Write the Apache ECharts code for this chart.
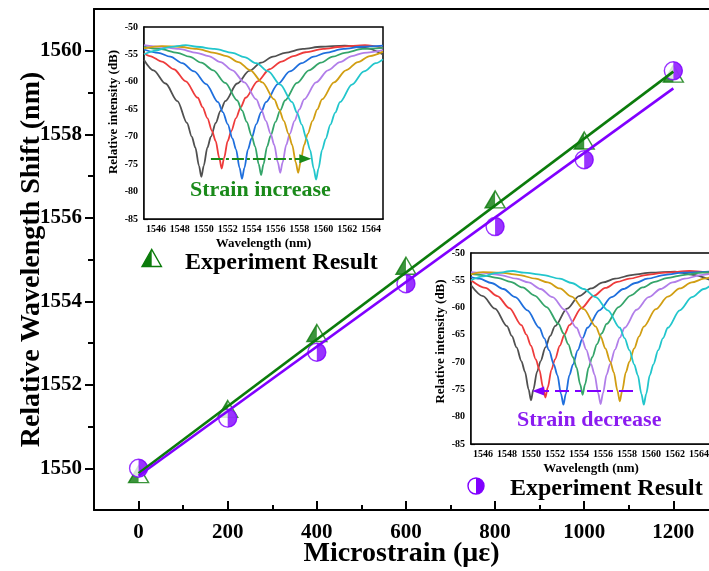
<!DOCTYPE html>
<html>
<head>
<meta charset="utf-8">
<script src="https://cdn.jsdelivr.net/npm/echarts@6/dist/echarts.min.js"></script>
<style>
html,body{margin:0;padding:0;background:#fff;}
#chart{width:709px;height:571px;}
</style>
</head>
<body>
<div id="chart"></div>
<script>
var strain = [0, 200, 400, 600, 800, 1000, 1200];
var incShift = [1549.86, 1551.42, 1553.24, 1554.85, 1556.44, 1557.85, 1559.45];
var decShift = [1550.00, 1551.20, 1552.78, 1554.42, 1555.79, 1557.39, 1559.52];
var fitStrain = [0, 1200];
var incFit = [1549.88, 1559.50];
var decFit = [1549.82, 1559.10];

var xTicks = [0, 200, 400, 600, 800, 1000, 1200];
var xMinor = [100, 300, 500, 700, 900, 1100];
var yTicks = [1550, 1552, 1554, 1556, 1558, 1560];
var yMinor = [1551, 1553, 1555, 1557, 1559];
var wlTicks = [1546, 1548, 1550, 1552, 1554, 1556, 1558, 1560, 1562, 1564];
var wlMinor = [1547, 1549, 1551, 1553, 1555, 1557, 1559, 1561, 1563];

var specColors = ['#505050', '#ee3b3b', '#1f6fdd', '#35a56a', '#b17ee9', '#d19e12', '#22c6cc'];

// spectra for strain increase (inset top left)
var incSpectra = [
	[[1545,-56],[1545.8,-57.9],[1546.8,-60.3],[1547.8,-63.5],[1548.6,-67.5],[1549,-70],[1549.3,-72],[1549.6,-75.3],[1549.8,-77.3],[1550,-75.3],[1550.3,-72],[1550.6,-70],[1551,-67.5],[1551.4,-65.3],[1551.8,-63.5],[1552.8,-60.3],[1553.8,-58],[1554.8,-56.5],[1555.8,-55.4],[1556.8,-54.7],[1558.3,-54],[1559.8,-53.6],[1561.8,-53.4],[1563.5,-53.8],[1565,-55]],
	[[1545,-54.8],[1545.5,-55.3],[1546.5,-56.3],[1547.5,-57.7],[1548.5,-59.9],[1549.5,-62.9],[1549.9,-64.6],[1550.3,-66.6],[1550.7,-69],[1551,-70.8],[1551.3,-73.9],[1551.5,-75.8],[1551.7,-73.9],[1552,-70.8],[1552.3,-69],[1552.7,-66.6],[1553.1,-64.6],[1553.5,-62.9],[1554.5,-59.9],[1555.5,-57.7],[1556.5,-56.3],[1557.5,-55.3],[1558.5,-54.6],[1560,-54],[1561.5,-53.6],[1563.5,-53.3],[1565,-53.8]],
	[[1545,-54.1],[1546.2,-54.7],[1547.2,-55.4],[1548.2,-56.6],[1549.2,-58.1],[1550.2,-60.4],[1551.2,-63.7],[1551.6,-65.5],[1552,-67.7],[1552.4,-70.3],[1552.7,-72.3],[1553,-75.7],[1553.2,-77.7],[1553.4,-75.7],[1553.7,-72.3],[1554,-70.3],[1554.4,-67.7],[1554.8,-65.5],[1555.2,-63.7],[1556.2,-60.4],[1557.2,-58.1],[1558.2,-56.6],[1559.2,-55.4],[1560.2,-54.7],[1561.7,-54],[1563.2,-53.6],[1565,-53.4]],
	[[1545,-53.6],[1546.3,-54],[1547.8,-54.7],[1548.8,-55.4],[1549.8,-56.5],[1550.8,-57.9],[1551.8,-60.2],[1552.8,-63.4],[1553.2,-65.2],[1553.6,-67.3],[1554,-69.8],[1554.3,-71.8],[1554.6,-75],[1554.8,-77],[1555,-75],[1555.3,-71.8],[1555.6,-69.8],[1556,-67.3],[1556.4,-65.2],[1556.8,-63.4],[1557.8,-60.2],[1558.8,-57.9],[1559.8,-56.5],[1560.8,-55.4],[1561.8,-54.7],[1563.3,-54],[1565,-53.8]],
	[[1545,-53.3],[1546.4,-53.6],[1547.9,-54],[1549.4,-54.7],[1550.4,-55.3],[1551.4,-56.4],[1552.4,-57.9],[1553.4,-60.1],[1554.4,-63.2],[1554.8,-65],[1555.2,-67.1],[1555.6,-69.5],[1555.9,-71.5],[1556.2,-74.7],[1556.4,-76.6],[1556.6,-74.7],[1556.9,-71.5],[1557.2,-69.5],[1557.6,-67.1],[1558,-65],[1558.4,-63.2],[1559.4,-60.1],[1560.4,-57.9],[1561.4,-56.4],[1562.4,-55.3],[1563.4,-54.7],[1565,-54.2]],
	[[1545,-53.9],[1546.5,-53.5],[1547.9,-53.6],[1549.4,-54],[1550.9,-54.7],[1551.9,-55.3],[1552.9,-56.4],[1553.9,-57.9],[1554.9,-60.1],[1555.9,-63.2],[1556.3,-65],[1556.7,-67.1],[1557.1,-69.5],[1557.4,-71.5],[1557.7,-74.7],[1557.9,-76.6],[1558.1,-74.7],[1558.4,-71.5],[1558.7,-69.5],[1559.1,-67.1],[1559.5,-65],[1559.9,-63.2],[1560.9,-60.1],[1561.9,-57.9],[1562.9,-56.4],[1563.9,-55.3],[1565,-54.5]],
	[[1545,-55],[1546,-54.3],[1547,-53.7],[1548.5,-53.3],[1549.4,-53.6],[1550.9,-54],[1552.4,-54.7],[1553.4,-55.5],[1554.4,-56.6],[1555.4,-58.1],[1556.4,-60.5],[1557.4,-63.7],[1557.8,-65.6],[1558.2,-67.8],[1558.6,-70.4],[1558.9,-72.4],[1559.2,-75.8],[1559.4,-77.8],[1559.6,-75.8],[1559.9,-72.4],[1560.2,-70.4],[1560.6,-67.8],[1561,-65.6],[1561.4,-63.7],[1562.4,-60.5],[1563.4,-58.1],[1564.4,-56.6],[1565,-55.9]]
];

// spectra for strain decrease (inset bottom right)
var decSpectra = [
	[[1545,-55.9],[1546,-57.9],[1547,-60.2],[1548,-63.4],[1548.4,-65.2],[1548.8,-67.3],[1549.2,-69.8],[1549.5,-71.8],[1549.8,-75],[1550,-77],[1550.2,-75],[1550.5,-71.8],[1550.8,-69.8],[1551.2,-67.3],[1551.6,-65.2],[1552,-63.4],[1553,-60.2],[1554,-57.9],[1555,-56.5],[1556,-55.4],[1557,-54.7],[1558.5,-54],[1560,-53.6],[1562,-53.4],[1563.5,-54],[1565,-55]],
	[[1545,-55],[1546.2,-56.4],[1547.2,-57.9],[1548.2,-60.1],[1549.2,-63.2],[1549.6,-64.9],[1550,-67],[1550.4,-69.5],[1550.7,-71.4],[1551,-74.6],[1551.2,-76.5],[1551.4,-74.6],[1551.7,-71.4],[1552,-69.5],[1552.4,-67],[1552.8,-64.9],[1553.2,-63.2],[1554.2,-60.1],[1555.2,-57.9],[1556.2,-56.4],[1557.2,-55.3],[1558.2,-54.7],[1559.7,-54],[1561.2,-53.6],[1563.2,-53.3],[1565,-53.7]],
	[[1545,-54.4],[1545.7,-54.7],[1546.7,-55.5],[1547.7,-56.6],[1548.7,-58.1],[1549.7,-60.5],[1550.7,-63.7],[1551.1,-65.6],[1551.5,-67.8],[1551.9,-70.4],[1552.2,-72.4],[1552.5,-75.8],[1552.7,-77.8],[1552.9,-75.8],[1553.2,-72.4],[1553.5,-70.4],[1553.9,-67.8],[1554.3,-65.6],[1554.7,-63.7],[1555.7,-60.5],[1556.7,-58.1],[1557.7,-56.6],[1558.7,-55.5],[1559.7,-54.7],[1561.2,-54],[1562.7,-53.6],[1565,-53.4]],
	[[1545,-53.8],[1545.8,-54],[1547.3,-54.6],[1548.3,-55.3],[1549.3,-56.3],[1550.3,-57.8],[1551.3,-59.9],[1552.3,-63],[1552.7,-64.7],[1553.1,-66.7],[1553.5,-69.1],[1553.8,-71],[1554.1,-74.1],[1554.3,-76],[1554.5,-74.1],[1554.8,-71],[1555.1,-69.1],[1555.5,-66.7],[1555.9,-64.7],[1556.3,-63],[1557.3,-59.9],[1558.3,-57.8],[1559.3,-56.3],[1560.3,-55.3],[1561.3,-54.6],[1562.8,-54],[1564.3,-53.6],[1565,-53.5]],
	[[1545,-53.5],[1545.8,-53.6],[1547.3,-54],[1548.8,-54.7],[1549.8,-55.4],[1550.8,-56.6],[1551.8,-58.1],[1552.8,-60.4],[1553.8,-63.7],[1554.2,-65.5],[1554.6,-67.7],[1555,-70.3],[1555.3,-72.3],[1555.6,-75.7],[1555.8,-77.7],[1556,-75.7],[1556.3,-72.3],[1556.6,-70.3],[1557,-67.7],[1557.4,-65.5],[1557.8,-63.7],[1558.8,-60.4],[1559.8,-58.1],[1560.8,-56.6],[1561.8,-55.4],[1562.8,-54.7],[1564.3,-54],[1565,-53.8]],
	[[1545,-53.9],[1546,-53.5],[1547.4,-53.6],[1548.9,-54],[1550.4,-54.7],[1551.4,-55.4],[1552.4,-56.5],[1553.4,-58],[1554.4,-60.3],[1555.4,-63.5],[1555.8,-65.3],[1556.2,-67.5],[1556.6,-69.9],[1556.9,-71.9],[1557.2,-75.2],[1557.4,-77.2],[1557.6,-75.2],[1557.9,-71.9],[1558.2,-69.9],[1558.6,-67.5],[1559,-65.3],[1559.4,-63.5],[1560.4,-60.3],[1561.4,-58],[1562.4,-56.5],[1563.4,-55.4],[1564.4,-54.7],[1565,-54.4]],
	[[1545,-55],[1546,-54.3],[1547,-53.7],[1548.5,-53.3],[1549.4,-53.6],[1550.9,-54],[1552.4,-54.7],[1553.4,-55.5],[1554.4,-56.6],[1555.4,-58.1],[1556.4,-60.5],[1557.4,-63.7],[1557.8,-65.6],[1558.2,-67.8],[1558.6,-70.4],[1558.9,-72.4],[1559.2,-75.8],[1559.4,-77.8],[1559.6,-75.8],[1559.9,-72.4],[1560.2,-70.4],[1560.6,-67.8],[1561,-65.6],[1561.4,-63.7],[1562.4,-60.5],[1563.4,-58.1],[1564.4,-56.6],[1565,-55.9]]
];

var incArrow = [[1550.6, -74.0], [1558.5, -74.0]];
var decArrow = [[1558.5, -75.3], [1550.6, -75.3]];

var font = "'Liberation Serif', 'Times New Roman', serif";
var green = '#0b7b0b';
var purple = '#8000ff';

var chart = echarts.init(document.getElementById('chart'), null, {renderer: 'canvas'});

function pairs(xs, ys){
	var out = [];
	for(var i = 0; i < xs.length; i++){
		out.push([xs[i], ys[i]]);
	}
	return out;
}

function plain(v){
	return String(v);
}

function insetX(grid, ticks, isMinor){
	return {
		type: 'value', gridIndex: grid, min: 1545, max: 1565, position: 'bottom',
		axisLine: {show: !isMinor, onZero: false, lineStyle: {color: '#000', width: 1.5}},
		axisTick: {inside: true, length: isMinor ? 2 : 4, customValues: ticks, lineStyle: {color: '#000', width: 1.2}},
		axisLabel: isMinor ? {show: false} : {customValues: ticks, formatter: plain, margin: 5, color: '#000', fontFamily: font, fontWeight: 'bold', fontSize: 10},
		splitLine: {show: false},
		name: isMinor ? '' : 'Wavelength (nm)',
		nameLocation: 'middle', nameGap: 18, nameMoveOverlap: false,
		nameTextStyle: {color: '#000', fontFamily: font, fontWeight: 'bold', fontSize: 13}
	};
}

function insetY(grid, shift){
	return {
		type: 'value', gridIndex: grid, min: -85, max: -50, interval: 5,
		axisLine: {onZero: false, lineStyle: {color: '#000', width: 1.5}},
		axisTick: {inside: true, length: 4, lineStyle: {color: '#000', width: 1.2}},
		minorTick: {show: true, splitNumber: 2, length: 2, lineStyle: {color: '#000', width: 1}},
		axisLabel: {formatter: plain, margin: 6, color: '#000', fontFamily: font, fontWeight: 'bold', fontSize: 10},
		splitLine: {show: false},
		name: 'Relative intensity (dB)',
		nameLocation: 'middle', nameGap: 24, nameRotate: 90, nameMoveOverlap: false,
		nameTextStyle: {color: '#000', fontFamily: font, fontWeight: 'bold', fontSize: 13, padding: [0, 0, 0, shift]}
	};
}

function spectra(list, xi, yi, arrow, arrowColor, dash){
	var out = [];
	for(var i = 0; i < list.length; i++){
		var s = {
			type: 'line', xAxisIndex: xi, yAxisIndex: yi, data: list[i],
			showSymbol: false, smooth: 0.3, smoothMonotone: 'x', silent: true,
			lineStyle: {color: specColors[i], width: 1.8}, z: 3
		};
		if(i === 0){
			s.markLine = {
				silent: true, symbol: ['none', 'triangle'], symbolSize: [9, 12],
				label: {show: false},
				lineStyle: {color: arrowColor, width: 2, type: dash},
				itemStyle: {color: arrowColor},
				data: [[{coord: arrow[0]}, {coord: arrow[1]}]]
			};
		}
		out.push(s);
	}
	return out;
}

var labelStyle = {color: '#000', fontFamily: font, fontWeight: 'bold', fontSize: 21, formatter: plain};

var series = [
	{
		type: 'scatter', xAxisIndex: 0, yAxisIndex: 0, data: pairs(strain, incShift),
		symbol: 'triangle', symbolSize: [20, 17], z: 4,
		itemStyle: {color: '#fff', borderColor: green, borderWidth: 1.4}
	},
	{
		type: 'scatter', xAxisIndex: 0, yAxisIndex: 0, data: pairs(strain, incShift),
		symbol: 'path://M0 1 L1 0 L1 1 Z', symbolSize: [10, 17], symbolOffset: [-5, 0], z: 4,
		itemStyle: {color: green}
	},
	{
		type: 'scatter', xAxisIndex: 0, yAxisIndex: 0, data: pairs(strain, decShift),
		symbol: 'circle', symbolSize: 18, z: 5,
		itemStyle: {color: '#fff', borderColor: purple, borderWidth: 1.4}
	},
	{
		type: 'scatter', xAxisIndex: 0, yAxisIndex: 0, data: pairs(strain, decShift),
		symbol: 'path://M0 0 C1.3333 0 1.3333 2 0 2 Z', symbolSize: [9, 18], symbolOffset: [4.5, 0], z: 5,
		itemStyle: {color: purple}
	},
	{
		type: 'line', xAxisIndex: 0, yAxisIndex: 0, data: pairs(fitStrain, incFit),
		showSymbol: false, lineStyle: {color: green, width: 2.6}, z: 6
	},
	{
		type: 'line', xAxisIndex: 0, yAxisIndex: 0, data: pairs(fitStrain, decFit),
		showSymbol: false, lineStyle: {color: purple, width: 2.6}, z: 6
	}
];
series = series.concat(spectra(incSpectra, 3, 2, incArrow, '#1a8a1a', [12, 3, 3, 3]));
series = series.concat(spectra(decSpectra, 5, 3, decArrow, purple, [14, 6, 6, 6]));

var option = {
	backgroundColor: '#fff',
	animation: false,
	grid: [
		{left: 94, top: 9, right: 0, bottom: 61, outerBoundsMode: 'none'},
		{left: 144, top: 27, width: 239, height: 192, outerBoundsMode: 'none', show: true, backgroundColor: '#fff', borderColor: '#000', borderWidth: 1.5, z: 1},
		{left: 471, top: 253, width: 240, height: 191, outerBoundsMode: 'none', show: true, backgroundColor: '#fff', borderColor: '#000', borderWidth: 1.5, z: 1}
	],
	xAxis: [
		{
			type: 'value', gridIndex: 0, min: -100, max: 1280, position: 'bottom',
			axisLine: {onZero: false, lineStyle: {color: '#000', width: 2}},
			axisTick: {inside: true, length: 9, customValues: xTicks, lineStyle: {color: '#000', width: 2}},
			axisLabel: Object.assign({customValues: xTicks, margin: 12}, labelStyle),
			splitLine: {show: false},
			name: 'Microstrain (με)', nameLocation: 'middle', nameGap: 30, nameMoveOverlap: false,
			nameTextStyle: {color: '#000', fontFamily: font, fontWeight: 'bold', fontSize: 28}
		},
		{
			type: 'value', gridIndex: 0, min: -100, max: 1280, position: 'bottom',
			axisLine: {show: false, onZero: false},
			axisTick: {inside: true, length: 5, customValues: xMinor, lineStyle: {color: '#000', width: 2}},
			axisLabel: {show: false}, splitLine: {show: false}
		},
		{
			type: 'value', gridIndex: 0, min: -100, max: 1280, position: 'top',
			axisLine: {onZero: false, lineStyle: {color: '#000', width: 2}},
			axisTick: {show: false}, axisLabel: {show: false}, splitLine: {show: false}
		},
		insetX(1, wlTicks, false),
		insetX(1, wlMinor, true),
		insetX(2, wlTicks, false),
		insetX(2, wlMinor, true)
	],
	yAxis: [
		{
			type: 'value', gridIndex: 0, min: 1549, max: 1561, position: 'left',
			axisLine: {onZero: false, lineStyle: {color: '#000', width: 2}},
			axisTick: {length: 9, customValues: yTicks, lineStyle: {color: '#000', width: 2}},
			axisLabel: Object.assign({customValues: yTicks, margin: 12}, labelStyle),
			splitLine: {show: false},
			name: 'Relative Wavelength Shift (nm)', nameLocation: 'middle', nameGap: 48, nameRotate: 90, nameMoveOverlap: false,
			nameTextStyle: {color: '#000', fontFamily: font, fontWeight: 'bold', fontSize: 28}
		},
		{
			type: 'value', gridIndex: 0, min: 1549, max: 1561, position: 'left',
			axisLine: {show: false, onZero: false},
			axisTick: {length: 6, customValues: yMinor, lineStyle: {color: '#000', width: 2}},
			axisLabel: {show: false}, splitLine: {show: false}
		},
		insetY(1, 22),
		insetY(2, 14)
	],
	graphic: [
		{type: 'polygon', shape: {points: [[142, 266.5], [151.7, 249.5], [161.4, 266.5]]}, style: {fill: '#fff', stroke: green, lineWidth: 1.4}},
		{type: 'polygon', shape: {points: [[142, 266.5], [151.7, 249.5], [151.7, 266.5]]}, style: {fill: green}},
		{type: 'text', left: 185, top: 251, style: {text: 'Experiment Result', fill: '#000', font: 'bold 24px ' + font}},
		{type: 'circle', shape: {cx: 476, cy: 486, r: 8}, style: {fill: '#fff', stroke: purple, lineWidth: 1.4}},
		{type: 'sector', shape: {cx: 476, cy: 486, r: 8, r0: 0, startAngle: -Math.PI / 2, endAngle: Math.PI / 2, clockwise: true}, style: {fill: purple}},
		{type: 'text', left: 510, top: 477, style: {text: 'Experiment Result', fill: '#000', font: 'bold 24px ' + font}},
		{type: 'text', left: 190, top: 179, z: 10, style: {text: 'Strain increase', fill: '#1a8a1a', font: 'bold 22px ' + font}},
		{type: 'text', left: 517, top: 409, z: 10, style: {text: 'Strain decrease', fill: '#8b1cf0', font: 'bold 22px ' + font}}
	],
	series: series
};

chart.setOption(option);
</script>
</body>
</html>
